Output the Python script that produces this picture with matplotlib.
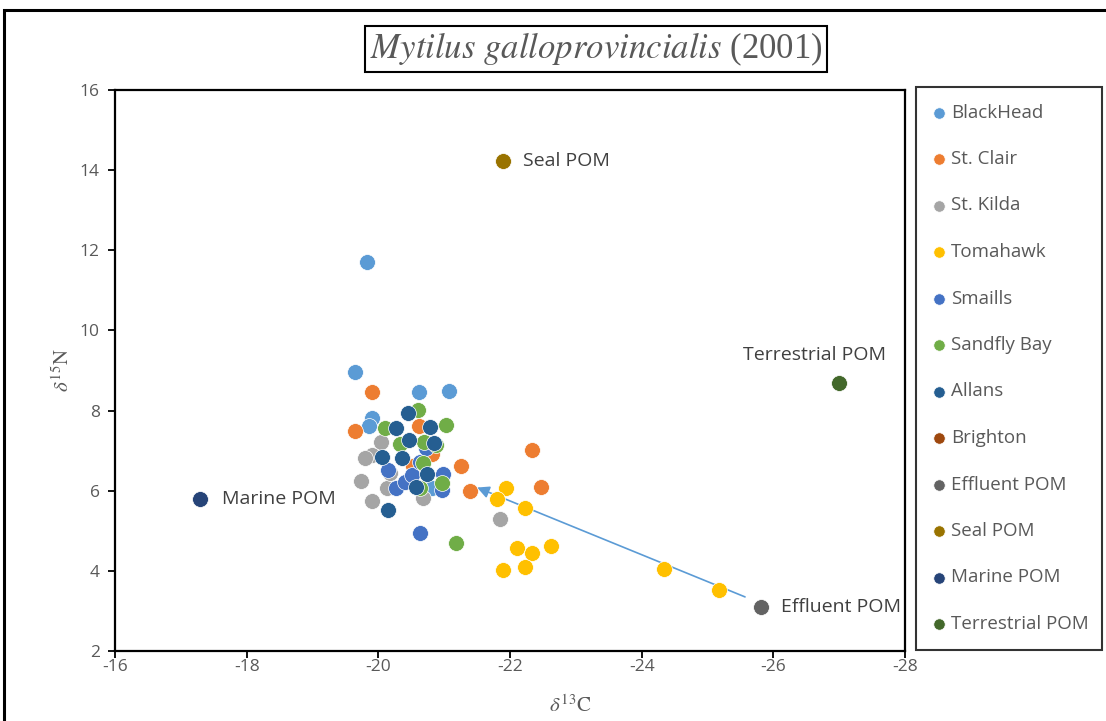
import matplotlib
matplotlib.use("Agg")
import matplotlib.pyplot as plt
from matplotlib.patches import Rectangle

# ---------------- data ----------------
series_names = ["BlackHead", "St. Clair", "St. Kilda", "Tomahawk", "Smaills",
                "Sandfly Bay", "Allans", "Brighton", "Effluent POM", "Seal POM",
                "Marine POM", "Terrestrial POM"]
series_colors = ["#5B9BD5", "#ED7D31", "#A5A5A5", "#FFC000", "#4472C4",
                 "#70AD47", "#255E91", "#9E480E", "#636363", "#997300",
                 "#264478", "#43682B"]

blackhead_c = [-19.83, -19.65, -19.91, -19.86, -20.62, -21.08, -20.82]
blackhead_n = [11.71, 8.96, 7.81, 7.61, 8.46, 8.49, 6.07]

stclair_c = [-19.65, -19.91, -20.62, -20.82, -20.53, -21.26, -21.40, -22.34, -22.47]
stclair_n = [7.49, 8.46, 7.61, 6.92, 6.61, 6.62, 6.00, 7.02, 6.09]

stkilda_c = [-20.04, -19.91, -19.80, -19.74, -20.13, -19.91, -20.18, -20.68, -21.85]
stkilda_n = [7.22, 6.89, 6.82, 6.24, 6.07, 5.74, 6.44, 5.82, 5.29]

tomahawk_c = [-21.94, -21.80, -22.23, -22.11, -22.34, -22.63, -21.90, -22.23, -24.34, -25.18]
tomahawk_n = [6.07, 5.79, 5.57, 4.57, 4.44, 4.62, 4.02, 4.10, 4.05, 3.52]

smaills_c = [-20.15, -20.27, -20.41, -20.51, -20.64, -20.98, -20.97, -20.64, -20.73]
smaills_n = [6.52, 6.07, 6.22, 6.39, 6.72, 6.42, 6.02, 4.94, 7.06]

sandfly_c = [-20.61, -20.10, -21.03, -20.33, -20.70, -20.87, -20.68, -20.97, -20.64, -21.18]
sandfly_n = [8.01, 7.56, 7.64, 7.17, 7.22, 7.14, 6.69, 6.19, 6.07, 4.69]

allans_c = [-20.45, -20.27, -20.79, -20.47, -20.85, -20.06, -20.36, -20.74, -20.57, -20.15]
allans_n = [7.94, 7.56, 7.59, 7.27, 7.19, 6.84, 6.82, 6.42, 6.09, 5.52]

brighton_c = []
brighton_n = []

effluent_c = [-25.82]
effluent_n = [3.10]
seal_c = [-21.90]
seal_n = [14.23]
marine_c = [-17.29]
marine_n = [5.79]
terrestrial_c = [-27.00]
terrestrial_n = [8.69]

arrow_start = (-25.57, 3.35)
arrow_end = (-21.50, 6.08)

x_ticks = [-16, -18, -20, -22, -24, -26, -28]
y_ticks = [2, 4, 6, 8, 10, 12, 14, 16]

all_c = [blackhead_c, stclair_c, stkilda_c, tomahawk_c, smaills_c, sandfly_c,
         allans_c, brighton_c, effluent_c, seal_c, marine_c, terrestrial_c]
all_n = [blackhead_n, stclair_n, stkilda_n, tomahawk_n, smaills_n, sandfly_n,
         allans_n, brighton_n, effluent_n, seal_n, marine_n, terrestrial_n]

# ---------------- figure ----------------
W, H = 1106, 721
fig = plt.figure(figsize=(W / 100, H / 100), dpi=100)
fig.patch.set_facecolor("white")

def fx(px):
    return px / W

def fy(py):
    return 1 - py / H

ax = fig.add_axes([fx(115), fy(651), fx(905) - fx(115), fy(90) - fy(651)])

for name, col, xs, ys in zip(series_names, series_colors, all_c, all_n):
    ax.scatter(xs, ys, s=130, color=col, edgecolors="white", linewidths=0.5,
               label=name, zorder=3)

ax.set_xlim(-16, -28)
ax.set_ylim(2, 16)
ax.set_xticks(x_ticks)
ax.set_yticks(y_ticks)
ax.set_xticklabels([str(v) for v in x_ticks])
ax.set_yticklabels([str(v) for v in y_ticks])
for sp in ax.spines.values():
    sp.set_linewidth(1.6)
    sp.set_color("black")
ax.tick_params(axis="both", direction="out", length=5, width=1.3, color="black",
               labelcolor="#595959", labelsize=12.5)
for lab in ax.get_xticklabels() + ax.get_yticklabels():
    lab.set_fontfamily("Open Sans")
ax.tick_params(axis="x", pad=1)
ax.tick_params(axis="y", pad=6)

# annotations
ax.annotate("", xy=arrow_end, xytext=arrow_start,
            arrowprops=dict(arrowstyle="-|>", color="#5B9BD5", lw=1.2,
                            mutation_scale=18, shrinkA=0, shrinkB=0), zorder=2)

lab_kw = dict(fontsize=14, color="#404040", family="Open Sans", va="center")
ax.text(seal_c[0] - 0.3, seal_n[0], "Seal POM", ha="left", **lab_kw)
ax.text(marine_c[0] - 0.33, marine_n[0], "Marine POM", ha="left", **lab_kw)
ax.text(terrestrial_c[0] + 0.38, terrestrial_n[0] + 0.7, "Terrestrial POM", ha="center", **lab_kw)
ax.text(effluent_c[0] - 0.3, effluent_n[0], "Effluent POM", ha="left", **lab_kw)

# axis labels
plt.rcParams["mathtext.fontset"] = "stix"
fig.text(fx(570), fy(705), r"$\delta^{13}\mathrm{C}$", ha="center", va="center",
         fontsize=15, color="#595959")
fig.text(fx(62), fy(370), r"$\delta^{15}\mathrm{N}$", ha="center", va="center",
         fontsize=15, color="#595959", rotation=90)

# title
fig.text(fx(596), fy(49), r"$\mathit{Mytilus\ galloprovincialis}$ (2001)",
         ha="center", va="center", fontsize=25, color="#595959",
         family="Liberation Serif",
         bbox=dict(boxstyle="square,pad=0.13", facecolor="white",
                   edgecolor="black", linewidth=1.5))

# legend
leg = ax.legend(loc="upper left",
                bbox_to_anchor=(fx(916), fy(651), fx(1102) - fx(916), fy(87) - fy(651)),
                bbox_transform=fig.transFigure, mode="expand", frameon=True,
                fancybox=False, edgecolor="black", fontsize=13.5,
                labelspacing=1.52, borderpad=0.88, handlelength=0.7,
                handletextpad=0.3, markerscale=0.72, borderaxespad=0,
                scatterpoints=1)
leg.get_frame().set_linewidth(1.5)
for t in leg.get_texts():
    t.set_color("#595959")
    t.set_fontfamily("Open Sans")

# outer frame
fig.patches.append(Rectangle((fx(4), fy(740)), fx(1130) - fx(4), fy(10) - fy(740),
                             transform=fig.transFigure, fill=False,
                             edgecolor="black", linewidth=2.2))

fig.savefig("out.png", dpi=100)
